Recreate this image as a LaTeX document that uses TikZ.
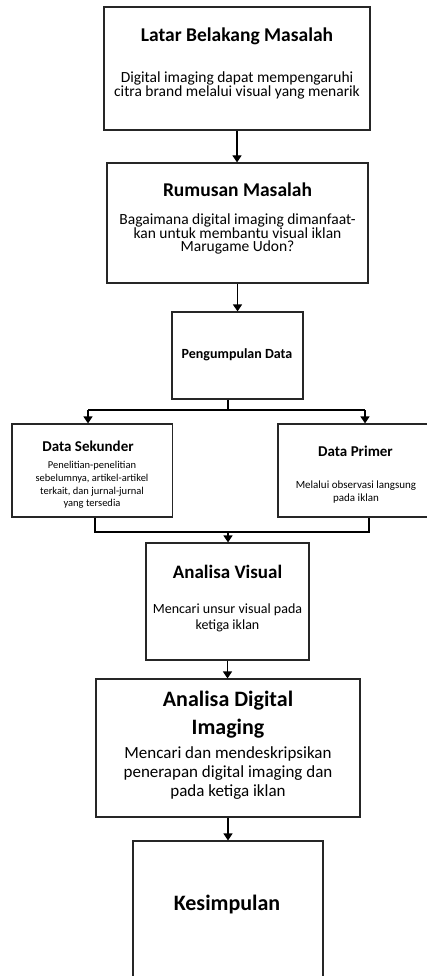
\documentclass[tikz,border=0pt]{standalone}
\usepackage{fontspec}
\setmainfont{Carlito}
\usetikzlibrary{arrows.meta}
\begin{document}
\begin{tikzpicture}[x=1pt,y=-1pt,
  box/.style={draw=black!85,line width=1.2pt,inner sep=0pt},
  conn/.style={draw=black,line width=1.2pt},
  arr/.style={conn,-{Triangle[width=9pt,length=7pt]}},
  txt/.style={inner sep=0pt,align=center,text=black},
  ttl/.style={txt,font=\bfseries\fontsize{#1}{#1}\selectfont}]
\useasboundingbox (0,0) rectangle (427,976);
\clip (0,0) rectangle (427,976);
\fill[white] (0,0) rectangle (427,976);
% boxes
\node[box,minimum width=266pt,minimum height=123pt] (b1) at (237,68.5) {};
\node[box,minimum width=261pt,minimum height=120pt] (b2) at (237.5,223) {};
\node[box,minimum width=131pt,minimum height=87pt] (b3) at (237.5,355.5) {};
\node[box,minimum width=160.5pt,minimum height=93pt] (sek) at (92.25,470.5) {};
\node[box,minimum width=155pt,minimum height=93pt] (pri) at (355.5,470.5) {};
\node[box,minimum width=163pt,minimum height=117pt] (av) at (227.5,601.5) {};
\node[box,minimum width=264pt,minimum height=138pt] (ad) at (228,748) {};
\node[box,minimum width=190pt,minimum height=159pt] (kes) at (228,920.5) {};
% texts
\node[ttl=19.5] (t1) at (237,36) {Latar Belakang Masalah};
\node[txt,font=\fontsize{15.5}{14}\selectfont] (d1) at (237,85) {Digital imaging dapat mempengaruhi\\citra brand melalui visual yang menarik};
\node[ttl=19.5] (t2) at (237.5,190) {Rumusan Masalah};
\node[txt,font=\fontsize{15.5}{13.7}\selectfont] (d2) at (237.5,234) {Bagaimana digital imaging dimanfaat-\\kan untuk membantu visual iklan\\Marugame Udon?};
\node[ttl=14] (t3) at (237,355) {Pengumpulan Data};
\node[ttl=15] (t4) at (88,446) {Data Sekunder};
\node[txt,font=\fontsize{10.5}{12.7}\selectfont] (d4) at (92,485) {Penelitian-penelitian\\sebelumnya, artikel-artikel\\terkait, dan jurnal-jurnal\\yang tersedia};
\node[ttl=15] (t5) at (355.5,451) {Data Primer};
\node[txt,font=\fontsize{11}{13}\selectfont] (d5) at (356,492) {Melalui observasi langsung\\pada iklan};
\node[ttl=19] (t6) at (227.5,572) {Analisa Visual};
\node[txt,font=\fontsize{14}{16}\selectfont] (d6) at (227.5,618) {Mencari unsur visual pada\\ketiga iklan};
\node[txt,font=\bfseries\fontsize{22}{28}\selectfont] (t7) at (228,715) {Analisa Digital\\Imaging};
\node[txt,font=\fontsize{17}{19}\selectfont] (d7) at (228,773) {Mencari dan mendeskripsikan\\penerapan digital imaging dan\\pada ketiga iklan};
\node[ttl=22] (t8) at (227,905) {Kesimpulan};
% connectors
\coordinate (split) at (228,410);
\coordinate (sl) at (88,410);
\coordinate (sr) at (365,410);
\coordinate (ml) at (95,532);
\coordinate (mr) at (369,532);
\coordinate (mc) at (228,532);
\draw[arr] (b1.south) -- (b1.south |- b2.north);
\draw[arr] (b2.south) -- (b2.south |- b3.north);
\draw[conn] (b3.south -| split) -- (split);
\draw[conn] (sl) -- (sr);
\draw[arr] (sl) -- (sl |- sek.north);
\draw[arr] (sr) -- (sr |- pri.north);
\draw[conn] (sek.south -| ml) -- (ml) -- (mr) -- (pri.south -| mr);
\draw[arr] (mc) -- (mc |- av.north);
\draw[arr] (av.south) -- (av.south |- ad.north);
\draw[arr] (ad.south) -- (ad.south |- kes.north);
\end{tikzpicture}
\end{document}
